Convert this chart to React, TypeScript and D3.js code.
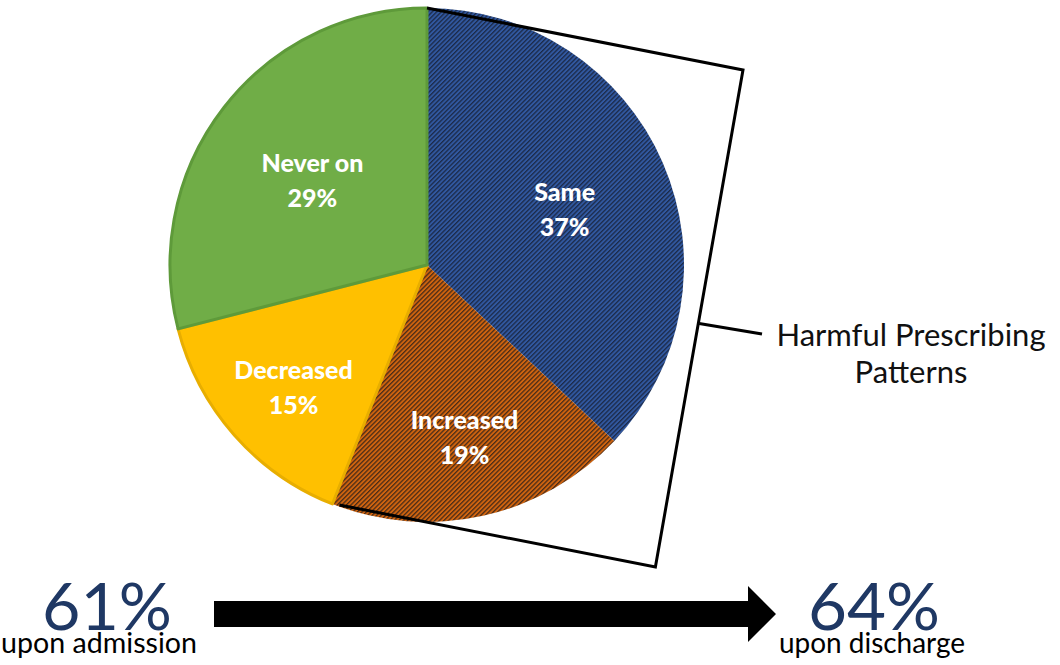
import React from "react";
import * as d3 from "d3";

const categories = ["Same", "Increased", "Decreased", "Never on"];
const values = [37, 19, 15, 29];
const fills = ["url(#hatchBlue)", "url(#hatchOrange)", "#FFC000", "#70AD47"];
const strokes = ["#2A4C8A", "#B5520F", "#E8AE00", "#5E9A3A"];
const admission = "61%";
const discharge = "64%";
const bracketLabel = ["Harmful Prescribing", "Patterns"];

const W = 1060;
const H = 665;
const cx = 427;
const cy = 265;
const R = 257;
const labelRadii = [150, 172, 178, 145];

export default function App() {
  const pie = d3.pie<number>().sort(null).value((d) => d).startAngle(0).endAngle(2 * Math.PI);
  const arcs = pie(values);
  const arcGen = d3.arc<d3.PieArcDatum<number>>().innerRadius(0).outerRadius(R);
  const pt = (a: number, r: number) => [cx + r * Math.sin(a), cy - r * Math.cos(a)];

  // bracket encloses "Same" + "Increased"
  const p0 = pt(arcs[0].startAngle, R);
  const pe = pt(arcs[1].endAngle, R);
  const p1 = [pe[0] + 7, pe[1] + 1];
  const off = [316, 62];
  const c0 = [p0[0] + off[0], p0[1] + off[1]];
  const c1 = [p1[0] + off[0], p1[1] + off[1]];
  const mid = [(c0[0] + c1[0]) / 2, (c0[1] + c1[1]) / 2 + 5];

  const font = "Lato, 'Open Sans', sans-serif";

  return (
    <svg width={W} height={H} style={{ position: "absolute", left: 0, top: 0, background: "#fff" }}>
      <defs>
        <pattern id="hatchBlue" patternUnits="userSpaceOnUse" width="3.2" height="3.2" patternTransform="rotate(45)">
          <rect width="3.2" height="3.2" fill="#3158A0" />
          <rect width="1.3" height="3.2" fill="#1B2A48" />
        </pattern>
        <pattern id="hatchOrange" patternUnits="userSpaceOnUse" width="3.2" height="3.2" patternTransform="rotate(45)">
          <rect width="3.2" height="3.2" fill="#D0640F" />
          <rect width="1.3" height="3.2" fill="#4A2C18" />
        </pattern>
      </defs>
      <g transform={`translate(${cx},${cy})`}>
        {arcs.map((a, i) => (
          <path key={categories[i]} d={arcGen(a) || ""} fill={fills[i]} stroke={strokes[i]} strokeWidth={i < 2 ? 0 : 3} strokeLinejoin="round" />
        ))}
      </g>
      {arcs.map((a, i) => {
        const m = (a.startAngle + a.endAngle) / 2;
        const [x, y] = pt(m, labelRadii[i]);
        return (
          <text key={"l" + i} x={x} y={y} textAnchor="middle" fill="#fff" fontFamily={font} fontWeight="900" fontSize="25">
            <tspan x={x} dy="-4">{categories[i]}</tspan>
            <tspan x={x} dy="35">{values[i]}%</tspan>
          </text>
        );
      })}
      <path d={`M${p0[0]},${p0[1]}L${c0[0]},${c0[1]}L${c1[0]},${c1[1]}L${p1[0]},${p1[1]}`} fill="none" stroke="#000" strokeWidth="3" strokeLinejoin="miter" />
      <line x1={mid[0]} y1={mid[1]} x2={762} y2={334} stroke="#000" strokeWidth="3" />
      <text x={911} y={346} textAnchor="middle" fontFamily={font} fontSize="31" fill="#111">
        {bracketLabel[0]}
      </text>
      <text x={911} y={383} textAnchor="middle" fontFamily={font} fontSize="31" fill="#111">
        {bracketLabel[1]}
      </text>

      <text x={107} y={630} textAnchor="middle" fontFamily={font} fontWeight="400" fontSize="66" fill="#1F3864" textLength="130" lengthAdjust="spacingAndGlyphs">{admission}</text>
      <text x={99} y={653} textAnchor="middle" fontFamily={font} fontSize="29" fill="#000" textLength="196" lengthAdjust="spacingAndGlyphs">upon admission</text>
      <text x={874} y={630} textAnchor="middle" fontFamily={font} fontWeight="400" fontSize="66" fill="#1F3864" textLength="132" lengthAdjust="spacingAndGlyphs">{discharge}</text>
      <text x={872} y={653} textAnchor="middle" fontFamily={font} fontSize="29" fill="#000" textLength="186" lengthAdjust="spacingAndGlyphs">upon discharge</text>

      <path d="M214,601L748,601L748,586L776,614L748,642L748,627L214,627Z" fill="#000" />
    </svg>
  );
}
